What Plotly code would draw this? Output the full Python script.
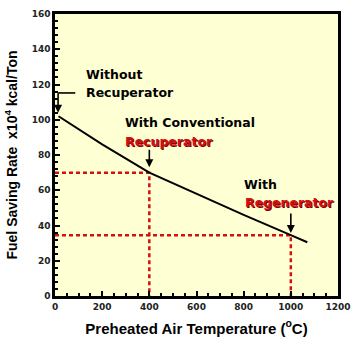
import plotly.graph_objects as go

# Data
temps = [15, 200, 400, 600, 800, 1000, 1070]
saving = [102, 86, 70, 58, 46, 34.5, 30.5]
ref_temps = [400, 1000]
ref_saving = [70, 34.5]
x_ticks = [0, 200, 400, 600, 800, 1000, 1200]
y_ticks = [0, 20, 40, 60, 80, 100, 120, 140, 160]

RED = "#d41010"
fig = go.Figure()

# dashed reference lines
for t, s in zip(ref_temps, ref_saving):
    fig.add_trace(go.Scatter(x=[0, t, t], y=[s, s, 0], mode="lines",
                             line=dict(color=RED, width=2.5, dash="4px,3px"),
                             hoverinfo="skip", showlegend=False))

fig.add_trace(go.Scatter(x=temps, y=saving, mode="lines",
                         line=dict(color="black", width=2), showlegend=False))

tf = dict(family="DejaVu Sans", size=12.5, color="black", weight="bold")
rf = dict(family="DejaVu Sans", size=12.5, color=RED, weight="bold",
          shadow="1px 1px 0px #700000")

labels = [
    ("Without", 123, 125.4, tf),
    ("Recuperator", 123, 115.2, tf),
    ("With Conventional", 289, 98.7, tf),
    ("Recuperator", 289, 87.9, rf),
    ("With", 795, 63, tf),
    ("Regenerator", 799, 52.8, rf),
]
for txt, x, y, f in labels:
    fig.add_annotation(x=x, y=y, text=txt, showarrow=False, xanchor="left",
                       yanchor="middle", font=f)

# arrows
arrows = [(13, 104, 0, -21), (400, 73, 0, -19), (1000, 35.7, 0, -21)]
for x, y, ax, ay in arrows:
    fig.add_annotation(x=x, y=y, ax=ax, ay=ay, text="", showarrow=True,
                       arrowhead=2, arrowsize=1, arrowwidth=1.6, arrowcolor="black")
fig.add_shape(type="line", x0=13, x1=86, y0=115.2, y1=115.2,
              line=dict(color="black", width=1.6))

tickf = dict(family="DejaVu Sans", size=9, color="#222222", weight="bold")
fig.update_xaxes(range=[0, 1200], tickvals=x_ticks, ticks="inside", ticklen=5,
                 tickcolor="black", tickwidth=1.5, showline=True, linecolor="black",
                 linewidth=2.5, mirror=True, showgrid=False, zeroline=False,
                 tickfont=tickf, automargin=False,
                 minor=dict(dtick=50, ticks="inside", ticklen=3, tickcolor="black",
                            showgrid=False),
                 title=dict(text="Preheated Air Temperature (<sup>o</sup>C)",
                            font=dict(family="Liberation Sans", size=15, color="black",
                                      weight="bold"), standoff=13))
fig.update_yaxes(range=[0, 160], tickvals=y_ticks, ticks="inside", ticklen=5,
                 tickcolor="black", tickwidth=1.5, showline=True, linecolor="black",
                 linewidth=2.5, mirror=True, showgrid=False, zeroline=False,
                 tickfont=tickf, automargin=False,
                 minor=dict(dtick=4, ticks="inside", ticklen=3, tickcolor="black",
                            showgrid=False),
                 title=dict(text="Fuel Saving Rate  x10<sup>4</sup> kcal/Ton",
                            font=dict(family="Liberation Sans", size=14, color="black",
                                      weight="bold"), standoff=11))

fig.update_layout(width=362, height=348, margin=dict(l=55, r=24, t=14, b=52),
                  plot_bgcolor="#ffffd4", paper_bgcolor="white", showlegend=False)

fig.write_html("out.html")
